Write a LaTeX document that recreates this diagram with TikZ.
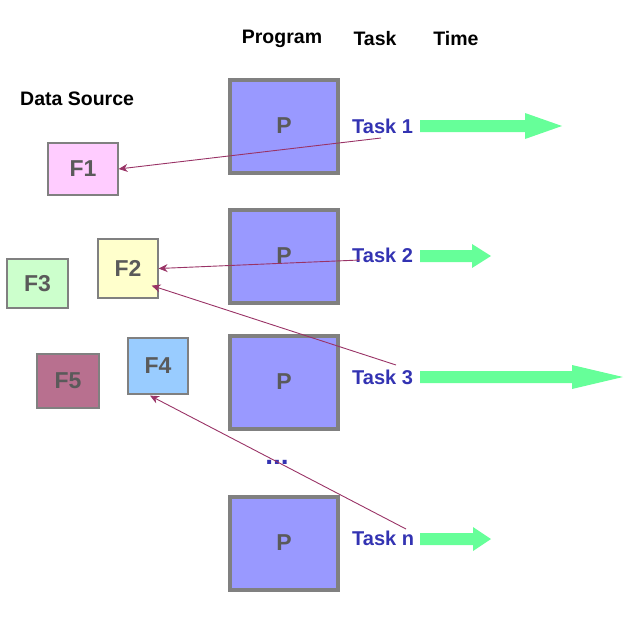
\documentclass[tikz,border=0pt]{standalone}
\usepackage{fontspec}
\setmainfont{Liberation Sans}
\usetikzlibrary{arrows.meta}
\definecolor{pfill}{HTML}{9999FF}
\definecolor{pborder}{HTML}{808080}
\definecolor{ftext}{HTML}{5A5A5A}
\definecolor{taskblue}{HTML}{3333B2}
\definecolor{timegreen}{HTML}{66FF99}
\definecolor{linkpurple}{HTML}{993366}
\definecolor{fa}{HTML}{FFCCFF}
\definecolor{fb}{HTML}{FFFFCC}
\definecolor{fc}{HTML}{CCFFCC}
\definecolor{fd}{HTML}{99CCFF}
\definecolor{fe}{HTML}{B8708F}
\tikzset{
  pbox/.style={draw=pborder, line width=4pt, fill=pfill, minimum width=108pt, minimum height=93pt, inner sep=0pt,
     text=ftext, font=\fontsize{23}{23}\selectfont\bfseries},
  fbox/.style={draw=pborder, line width=1.2pt, inner sep=0pt, text=ftext, font=\fontsize{23}{23}\selectfont\bfseries},
  head/.style={font=\fontsize{19.5}{19.5}\selectfont\bfseries, text=black, inner sep=0pt},
  tasklbl/.style={font=\fontsize{20}{20}\selectfont\bfseries, text=taskblue, inner sep=0pt, anchor=west},
  link/.style={draw=linkpurple, line width=0.9pt, -{Stealth[length=9pt,width=8pt]}},
  timearrow/.style={fill=timegreen, draw=none}
}
\begin{document}
\begin{tikzpicture}[x=1pt,y=-1pt]
\useasboundingbox (0,0) rectangle (629,621);
% headers
\node[head] (hprog) at (282,39) {Program};
\node[head] (htask) at (375,39) {Task};
\node[head] (htime) at (456,39) {Time};
\node[head, anchor=west] (hds) at (20,99) {Data Source};
% program boxes
\node[pbox] (p1) at (284,126) {P};
\node[pbox] (p2) at (284,256) {P};
\node[pbox] (p3) at (284,382) {P};
\node[pbox] (p4) at (284,543) {P};
\node[font=\fontsize{28}{28}\selectfont\bfseries, text=taskblue, anchor=base, inner sep=0pt] (dots) at (277,464) {...};
% data sources
\node[fbox, fill=fa, minimum width=70pt, minimum height=52pt] (f1) at (83,169) {F1};
\node[fbox, fill=fb, minimum width=60pt, minimum height=59pt] (f2) at (128,268.5) {F2};
\node[fbox, fill=fc, minimum width=61pt, minimum height=49pt] (f3) at (37.5,283.5) {F3};
\node[fbox, fill=fd, minimum width=60pt, minimum height=56pt] (f4) at (158,366) {F4};
\node[fbox, fill=fe, minimum width=62pt, minimum height=54pt] (f5) at (68,381) {F5};
% tasks
\node[tasklbl] (t1) at (352,126) {Task 1};
\node[tasklbl] (t2) at (352,255) {Task 2};
\node[tasklbl] (t3) at (352,377) {Task 3};
\node[tasklbl] (tn) at (352,538) {Task n};
% time arrows
\fill[timearrow] (420,120) -- (525,120) -- (525,113) -- (562,126) -- (525,139) -- (525,132) -- (420,132) -- cycle;
\fill[timearrow] (420,250) -- (472,250) -- (472,244) -- (491,256) -- (472,268) -- (472,262) -- (420,262) -- cycle;
\fill[timearrow] (420,371) -- (572,371) -- (572,365) -- (623,377) -- (572,389) -- (572,383) -- (420,383) -- cycle;
\fill[timearrow] (420,533) -- (473,533) -- (473,527) -- (491,539) -- (473,551) -- (473,545) -- (420,545) -- cycle;
% links
\coordinate (s1) at (381,138);
\coordinate (s2) at (360,260);
\coordinate (s3) at (396,365);
\coordinate (s4) at (406,529);
\draw[link] (s1) -- (f1.east);
\draw[link] (s2) -- (f2.east);
\draw[link] (s3) -- ([xshift=-7pt,yshift=13pt]f2.south east);
\draw[link] (s4) -- ([xshift=-8pt,yshift=-1pt]f4.south);
\end{tikzpicture}
\end{document}
